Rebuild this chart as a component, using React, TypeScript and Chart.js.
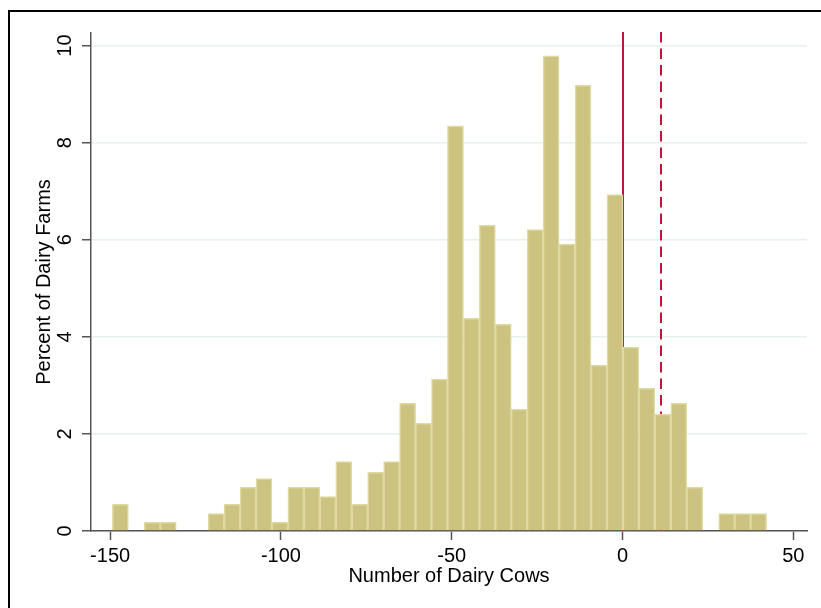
import React, { useEffect, useRef } from "react";
import { Chart, registerables } from "chart.js";

Chart.register(...registerables);

// Histogram bin centres (Number of Dairy Cows)
const binCenters = [
  -147.0, -142.32, -137.65, -132.98, -128.31, -123.64, -118.97, -114.3, -109.63, -104.96,
  -100.29, -95.62, -90.95, -86.28, -81.61, -76.93, -72.26, -67.59, -62.92, -58.25,
  -53.58, -48.91, -44.24, -39.57, -34.9, -30.23, -25.56, -20.89, -16.22, -11.55,
  -6.88, -2.21, 2.46, 7.13, 11.8, 16.48, 21.15, 25.82, 30.49, 35.16, 39.83,
];

// Percent of Dairy Farms in each bin
const percentValues = [
  0.55, 0, 0.18, 0.18, 0, 0, 0.36, 0.55, 0.9, 1.08,
  0.18, 0.9, 0.9, 0.71, 1.43, 0.55, 1.21, 1.43, 2.63, 2.22,
  3.13, 8.35, 4.38, 6.3, 4.26, 2.51, 6.21, 9.79, 5.91, 9.18,
  3.42, 6.93, 3.79, 2.94, 2.41, 2.63, 0.9, 0, 0.36, 0.36, 0.36,
];

const xTickValues = [-150, -100, -50, 0, 50];
const yTickValues = [0, 2, 4, 6, 8, 10];
const xRange = [-155.6, 54.0];
const yRange = [0, 10.26];
const solidLineValue = 0;
const dashedLineValue = 11.2;
const xTitle = "Number of Dairy Cows";
const yTitle = "Percent of Dairy Farms";

const FONT = "'Liberation Sans', Arial, Helvetica, sans-serif";

export default function App() {
  const canvasRef = useRef<HTMLCanvasElement>(null);

  useEffect(() => {
    if (!canvasRef.current) return;

    const refLines = {
      id: "refLines",
      beforeDatasetsDraw(chart: any) {
        const { ctx, chartArea, scales } = chart;
        const x = scales.x;
        ctx.save();
        ctx.strokeStyle = "#C8103A";
        ctx.lineWidth = 2;
        const draw = (v: number, dash: number[]) => {
          const px = Math.round(x.getPixelForValue(v));
          ctx.setLineDash(dash);
          ctx.beginPath();
          ctx.moveTo(px, chartArea.top - 1);
          ctx.lineTo(px, chartArea.bottom);
          ctx.stroke();
        };
        draw(solidLineValue, []);
        draw(dashedLineValue, [10.5, 6]);
        ctx.restore();
      },
    };

    const frame = {
      id: "frame",
      afterDraw(chart: any) {
        const { ctx } = chart;
        ctx.save();
        ctx.fillStyle = "#000";
        ctx.fillRect(8, 10, 2, 598);
        ctx.fillRect(8, 10, 813, 2);
        ctx.restore();
      },
    };

    const chart = new Chart(canvasRef.current, {
      type: "bar",
      data: {
        datasets: [
          {
            data: binCenters.map((x, i) => ({ x, y: percentValues[i] })),
            backgroundColor: "rgb(203,195,127)",
            borderColor: "rgb(223,217,163)",
            borderWidth: 1.5,
            barPercentage: 1,
            categoryPercentage: 1,
          },
        ],
      },
      options: {
        animation: false,
        responsive: false,
        devicePixelRatio: 1,
        layout: { padding: { top: 33, right: 14, left: 0, bottom: 0 } },
        plugins: { legend: { display: false }, tooltip: { enabled: false } },
        scales: {
          x: {
            type: "linear",
            min: xRange[0],
            max: xRange[1],
            offset: false,
            afterBuildTicks: (s: any) => {
              s.ticks = xTickValues.map((v) => ({ value: v }));
            },
            afterFit: (s: any) => {
              s.height = 77;
            },
            grid: {
              drawOnChartArea: false,
              offset: false,
              tickLength: 9,
              tickColor: "#555",
              tickWidth: 1.5,
              color: "#555",
            },
            border: { color: "#555", width: 1.5 },
            ticks: {
              padding: 4,
              maxRotation: 0,
              autoSkip: false,
              color: "#000",
              font: { family: FONT, size: 20 },
            },
            title: {
              display: true,
              text: xTitle,
              color: "#000",
              font: { family: FONT, size: 20 },
              padding: { top: 0, bottom: 20 },
            },
          },
          y: {
            type: "linear",
            min: yRange[0],
            max: yRange[1],
            afterBuildTicks: (s: any) => {
              s.ticks = yTickValues.map((v) => ({ value: v }));
            },
            afterFit: (s: any) => {
              s.width = 91;
            },
            grid: {
              color: "#E8EFF1",
              lineWidth: 1.5,
              tickLength: 9,
              tickColor: "#555",
              tickWidth: 1.5,
            },
            border: { color: "#555", width: 1.5 },
            ticks: {
              minRotation: 90,
              maxRotation: 90,
              crossAlign: "center",
              padding: 5,
              color: "#000",
              font: { family: FONT, size: 20 },
            },
            title: {
              display: true,
              text: yTitle,
              color: "#000",
              font: { family: FONT, size: 20 },
              padding: { top: 32, bottom: 0 },
            },
          },
        },
      },
      plugins: [refLines, frame],
    } as any);

    return () => chart.destroy();
  }, []);

  return (
    <div
      style={{
        position: "fixed",
        left: 0,
        top: 0,
        width: 821,
        height: 608,
        background: "#fff",
      }}
    >
      <canvas ref={canvasRef} width={821} height={608} />
    </div>
  );
}
